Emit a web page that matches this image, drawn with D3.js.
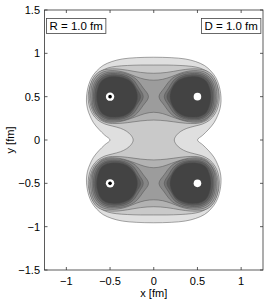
<!DOCTYPE html>
<html>
<head>
<meta charset="utf-8">
<script src="https://cdnjs.cloudflare.com/ajax/libs/d3/7.8.5/d3.min.js"></script>
<style>
body{margin:0;background:#fff;}
text{font-family:"Liberation Sans",Arial,sans-serif;fill:#000;}
</style>
</head>
<body>
<script>
//ticks and labels
var xTicks = [-1,-0.5,0,0.5,1];
var yTicks = [-1.5,-1,-0.5,0,0.5,1,1.5];
var legendText = ['R = 1.0 fm','D = 1.0 fm'];

//static sources
var sourceX = [-0.5,0.5,-0.5,0.5];
var sourceY = [0.5,0.5,-0.5,-0.5];
var sourceKind = ['ring','dot','ring','dot'];

//contour fills, light to dark
var levelFill = ['#dfdfdf','#c9c9c9','#b2b2b2','#9c9c9c','#868686','#717171','#5b5b5b','#434343'];

//level 1,2: quarter of the outline (top right), mirrored in x and y
var outer1 = [[0,0.955],[0.2,0.95],[0.36,0.935],[0.48,0.905],[0.58,0.86],[0.655,0.795],[0.71,0.72],[0.745,0.635],[0.765,0.54],[0.77,0.45],[0.758,0.36],[0.73,0.28],[0.69,0.2],[0.63,0.125],[0.56,0.055],[0.5,0]];
var outer2 = [[0,0.865],[0.15,0.865],[0.3,0.86],[0.43,0.85],[0.53,0.83],[0.61,0.79],[0.675,0.73],[0.72,0.65],[0.745,0.56],[0.75,0.47],[0.735,0.38],[0.7,0.3],[0.64,0.23],[0.56,0.185],[0.47,0.16],[0.38,0.135],[0.31,0.1],[0.26,0.055],[0.235,0]];

//level 3,4: right half of the upper tube, mirrored in x (and y for the lower tube)
var tube3 = [[0,0.77],[0.15,0.78],[0.3,0.805],[0.42,0.82],[0.52,0.818],[0.6,0.8],[0.665,0.755],[0.71,0.68],[0.735,0.58],[0.737,0.48],[0.72,0.39],[0.68,0.3],[0.61,0.23],[0.52,0.195],[0.42,0.19],[0.3,0.2],[0.15,0.22],[0,0.23]];
var tube4 = [[0,0.69],[0.1,0.7],[0.2,0.73],[0.3,0.77],[0.4,0.795],[0.5,0.8],[0.58,0.785],[0.65,0.74],[0.7,0.66],[0.72,0.56],[0.72,0.46],[0.7,0.37],[0.655,0.29],[0.58,0.225],[0.5,0.205],[0.4,0.21],[0.3,0.235],[0.2,0.27],[0.1,0.305],[0,0.32]];

//level 5-8: outline round the source at (0.5,0.5)
var src5 = [[0.705,0.5],[0.69,0.63],[0.635,0.725],[0.55,0.774],[0.44,0.783],[0.32,0.765],[0.21,0.71],[0.12,0.6],[0.06,0.5],[0.12,0.4],[0.21,0.29],[0.32,0.235],[0.44,0.218],[0.55,0.226],[0.635,0.275],[0.69,0.37]];
var src6 = [[0.69,0.5],[0.675,0.62],[0.625,0.71],[0.545,0.758],[0.44,0.767],[0.33,0.75],[0.24,0.7],[0.17,0.6],[0.12,0.5],[0.17,0.4],[0.24,0.3],[0.33,0.25],[0.44,0.233],[0.545,0.242],[0.625,0.29],[0.675,0.38]];
var src7 = [[0.675,0.5],[0.66,0.61],[0.615,0.695],[0.54,0.742],[0.44,0.752],[0.34,0.735],[0.26,0.69],[0.2,0.6],[0.15,0.5],[0.2,0.4],[0.26,0.31],[0.34,0.262],[0.44,0.246],[0.54,0.255],[0.615,0.302],[0.66,0.39]];
var src8 = [[0.655,0.5],[0.64,0.6],[0.6,0.68],[0.53,0.725],[0.44,0.735],[0.35,0.72],[0.27,0.68],[0.21,0.6],[0.185,0.5],[0.21,0.4],[0.27,0.32],[0.35,0.275],[0.44,0.262],[0.53,0.272],[0.6,0.315],[0.64,0.4]];

//chart metrics
var width = 266, height = 302;
var x = d3.scaleLinear().domain([-1.25,1.25]).range([44.5,263]);
var y = d3.scaleLinear().domain([-1.5,1.5]).range([270,10]);
var lineColor = '#505050';

var svg = d3.select('body').append('svg')
	.attr('width',width)
	.attr('height',height);

var path = d3.line()
	.x(function(d){return x(d[0])})
	.y(function(d){return y(d[1])})
	.curve(d3.curveCatmullRomClosed.alpha(0.5));

//UTILITIES ============================================
function fromQuarter(q){
	var br = q.slice(0,-1).reverse().map(function(p){return [p[0],-p[1]]});
	var bl = q.slice(1).map(function(p){return [-p[0],-p[1]]});
	var tl = q.slice(1,-1).reverse().map(function(p){return [-p[0],p[1]]});
	return q.concat(br,bl,tl);
}
function fromHalf(h,sy){
	var left = h.slice(1,-1).reverse().map(function(p){return [-p[0],p[1]]});
	return h.concat(left).map(function(p){return [p[0],p[1]*sy]});
}
function atSource(s,sx,sy){
	return s.map(function(p){return [p[0]*sx,p[1]*sy]});
}

function drawShape(pts,fill){
	svg.append('path')
		.attr('d',path(pts))
		.attr('fill',fill)
		.attr('stroke',lineColor)
		.attr('stroke-width',0.5);
}

//contours
drawShape(fromQuarter(outer1),levelFill[0]);
drawShape(fromQuarter(outer2),levelFill[1]);
[tube3,tube4].forEach(function(t,i){
	drawShape(fromHalf(t,1),levelFill[2+i]);
	drawShape(fromHalf(t,-1),levelFill[2+i]);
});
[src5,src6,src7,src8].forEach(function(s,i){
	for(var k=0;k<sourceX.length;k++){
		drawShape(atSource(s,Math.sign(sourceX[k]),Math.sign(sourceY[k])),levelFill[4+i]);
	}
});

//sources
sourceX.forEach(function(sx,k){
	svg.append('circle')
		.attr('cx',x(sx)).attr('cy',y(sourceY[k]))
		.attr('r',sourceKind[k]==='ring' ? 4.2 : 3.8)
		.attr('fill','#fff');
	if(sourceKind[k]==='ring'){
		svg.append('circle')
			.attr('cx',x(sx)).attr('cy',y(sourceY[k]))
			.attr('r',1.8)
			.attr('fill','#000');
	}
});

//axes box
svg.append('rect')
	.attr('x',x(-1.25)).attr('y',y(1.5))
	.attr('width',x(1.25)-x(-1.25)).attr('height',y(-1.5)-y(1.5))
	.attr('fill','none').attr('stroke','#333').attr('stroke-width',0.8);

var tickLen = 3;
xTicks.forEach(function(t){
	svg.append('line').attr('x1',x(t)).attr('x2',x(t)).attr('y1',y(-1.5)).attr('y2',y(-1.5)-tickLen).attr('stroke','#333').attr('stroke-width',0.8);
	svg.append('line').attr('x1',x(t)).attr('x2',x(t)).attr('y1',y(1.5)).attr('y2',y(1.5)+tickLen).attr('stroke','#333').attr('stroke-width',0.8);
});
yTicks.forEach(function(t){
	svg.append('line').attr('x1',x(-1.25)).attr('x2',x(-1.25)+tickLen).attr('y1',y(t)).attr('y2',y(t)).attr('stroke','#333').attr('stroke-width',0.8);
	svg.append('line').attr('x1',x(1.25)).attr('x2',x(1.25)-tickLen).attr('y1',y(t)).attr('y2',y(t)).attr('stroke','#333').attr('stroke-width',0.8);
});

var fmt = function(v){return String(v).replace('-','\u2212')};
svg.selectAll('.xt').data(xTicks).enter().append('text')
	.attr('x',function(d){return x(d)})
	.attr('y',285)
	.attr('text-anchor','middle')
	.attr('font-size',11)
	.text(fmt);
svg.selectAll('.yt').data(yTicks).enter().append('text')
	.attr('x',40)
	.attr('y',function(d){return y(d)+4})
	.attr('text-anchor','end')
	.attr('font-size',11)
	.text(fmt);

svg.append('text').attr('x',x(0)).attr('y',297).attr('text-anchor','middle').attr('font-size',11).text('x [fm]');
svg.append('text').attr('transform','translate(14,'+y(0)+') rotate(-90)').attr('text-anchor','middle').attr('font-size',11).text('y [fm]');

//legend boxes
var boxes = [{x0:46.5},{x0:201.5}];
legendText.forEach(function(txt,i){
	var g = svg.append('g');
	var t = g.append('text')
		.attr('x',boxes[i].x0+3)
		.attr('y',30)
		.attr('font-size',11.5)
		.text(txt);
	var w = t.node().getComputedTextLength();
	g.insert('rect','text')
		.attr('x',boxes[i].x0).attr('y',18.5)
		.attr('width',w+6).attr('height',15)
		.attr('fill','#fff').attr('stroke','#444').attr('stroke-width',0.8);
});
</script>
</body>
</html>
